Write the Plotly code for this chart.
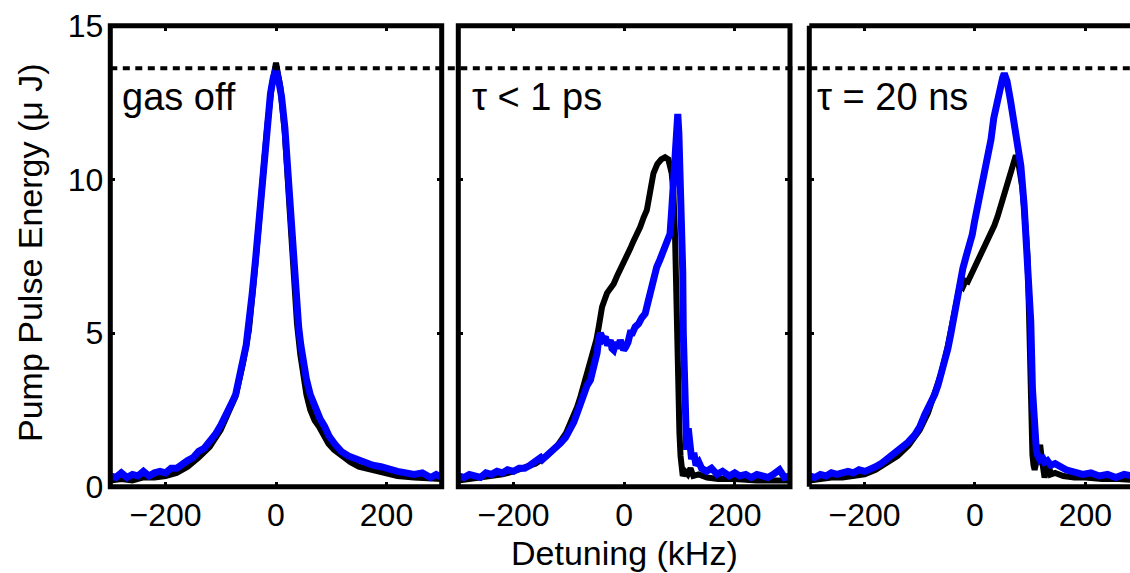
import plotly.graph_objects as go

# ---------------- data ----------------
p1_blue_x = [-300,-290,-280,-270,-260,-250,-240,-230,-220,-210,-200,-190,-180,-170,-160,-150,-140,-130,-120,-110,
             -100,-92,-85,-78,-73,-66,-60,-54,-49,-43,-37,-32,-28,-23,-16,-10,-5,0,5,10,
             16,20,24,28,31,35,41,45,49,55,62,68,74,80,88,96,106,118,131,145,
             160,175,190,205,220,235,250,265,280,290,300]
p1_blue_y = [0.35,0.3,0.45,0.3,0.4,0.35,0.5,0.35,0.45,0.5,0.45,0.6,0.6,0.75,0.85,0.95,1.15,1.25,1.45,1.7,
             2.0,2.25,2.5,2.8,3.0,3.5,4.1,4.6,5.2,6.3,7.4,8.45,9.5,10.6,11.7,12.8,13.3,13.6,13.2,12.7,
             11.7,10.6,9.5,8.45,7.4,6.3,5.2,4.6,4.1,3.5,3.0,2.7,2.5,2.2,1.96,1.65,1.4,1.15,1.0,0.9,
             0.8,0.7,0.65,0.55,0.5,0.45,0.4,0.45,0.3,0.4,0.3]

p1_black_x = [-300,-280,-260,-240,-220,-200,-180,-160,-140,-120,-100,-85,-73,-60,-49,-37,-28,-16,-8,0,
              8,16,24,31,38,44,50,55,62,70,78,86,95,105,118,135,150,170,190,220,250,280,300]
p1_black_y = [0.2,0.25,0.2,0.3,0.3,0.35,0.45,0.65,0.95,1.3,1.85,2.4,2.95,4.0,5.1,7.3,9.4,11.7,13.0,13.8,
              13.0,11.5,9.2,7.1,5.3,4.3,3.5,3.0,2.5,2.15,1.95,1.65,1.4,1.2,1.0,0.8,0.65,0.55,0.45,0.35,0.3,0.25,0.25]

p2_blue_x = [-300,-290,-280,-270,-260,-250,-240,-230,-220,-211,-200,-190,-180,-170,-160,-151,-148,-140,-133,-124,
             -115,-106,-97,-91,-85,-79,-73,-67,-61,-55,-49,-46,-43,-38,-34,-30,-25,-22,-19,-15,
             -11,-7,-4,-1,3,7,11,15,20,26,32,38,43,47,53,59,65,71,77,83,
             86,89,92,95,97,99,101,104,106,107,109,110,113,116,119,122,126,130,135,140,
             149,158,168,178,190,200,209,220,230,240,250,260,270,281,290,300]
p2_blue_y = [0.35,0.3,0.4,0.35,0.3,0.45,0.4,0.5,0.45,0.55,0.5,0.6,0.6,0.7,0.8,0.95,0.88,1.0,1.1,1.3,
             1.42,1.6,1.85,2.1,2.4,2.7,3.04,3.3,3.47,3.9,4.35,4.8,5.0,4.8,4.88,4.6,4.77,4.5,4.45,4.7,
             4.5,4.77,4.6,4.45,4.55,4.7,5.0,5.0,5.2,5.3,5.5,5.63,6.0,6.3,6.7,7.15,7.4,7.7,7.95,8.23,
             9.0,9.86,11.0,11.8,12.13,11.5,10.5,9.3,7.0,5.0,3.3,2.28,1.2,1.9,1.2,0.9,1.1,0.7,0.8,0.6,
             0.5,0.6,0.4,0.5,0.35,0.45,0.35,0.4,0.3,0.4,0.35,0.3,0.4,0.55,0.3,0.35]

p2_black_x = [-300,-280,-260,-240,-220,-200,-180,-160,-140,-120,-105,-95,-85,-79,-73,-67,-61,-55,-50,-46,
              -43,-40,-35,-31,-25,-19,-13,-7,-1,5,11,17,23,29,35,41,47,53,60,67,
              74,80,86,89,92,95,98,100,102,104,106,110,115,120,125,135,150,170,200,240,280,300]
p2_black_y = [0.2,0.25,0.3,0.35,0.4,0.5,0.6,0.75,1.0,1.35,1.75,2.15,2.6,2.93,3.3,3.7,4.0,4.35,4.8,5.2,
              5.6,5.85,6.1,6.3,6.45,6.6,6.85,7.05,7.25,7.5,7.75,8.0,8.2,8.45,8.75,9.0,9.6,10.2,10.5,10.65,
              10.72,10.65,10.2,9.6,8.2,5.0,3.0,1.75,1.0,0.55,0.35,0.5,0.4,0.6,0.35,0.4,0.3,0.25,0.25,0.2,0.2,0.2]

p3_blue_x = [-300,-290,-280,-270,-260,-250,-240,-230,-220,-210,-199,-190,-180,-170,-157,-145,-133,-121,-109,-100,
             -91,-82,-73,-67,-61,-55,-49,-44,-40,-35,-31,-27,-22,-16,-10,-5,-1,4,8,13,
             17,23,29,34,38,44,50,53,58,64,71,77,83,89,95,98,101,104,106,108,
             111,113,117,121,126,131,137,145,155,165,175,185,195,210,225,240,255,270,285,300]
p3_blue_y = [0.35,0.3,0.4,0.35,0.45,0.4,0.45,0.5,0.45,0.55,0.5,0.6,0.65,0.75,0.93,1.05,1.26,1.45,1.69,1.95,
             2.34,2.65,3.0,3.3,3.64,4.05,4.5,4.95,5.37,5.9,6.45,6.75,7.1,7.5,7.86,8.2,8.61,9.05,9.48,10.0,
             10.45,10.9,11.3,12.0,12.4,12.9,13.3,13.45,13.2,12.6,11.86,11.1,10.45,9.16,7.53,6.4,5.37,3.2,2.3,1.6,
             1.2,1.04,0.9,1.0,0.8,0.85,0.7,0.75,0.62,0.55,0.5,0.45,0.4,0.45,0.35,0.4,0.3,0.4,0.35,0.3]

p3_black_x = [-300,-280,-260,-240,-220,-200,-180,-160,-140,-120,-100,-85,-73,-61,-49,-40,-33,-27,-22,-17,
              -13,-7,-1,5,11,17,23,29,35,41,47,53,59,65,70,74,78,82,86,90,
              95,98,100,102,104,106,108,111,115,118,121,124,126,130,133,137,145,160,180,200,230,260,300]
p3_black_y = [0.2,0.25,0.3,0.3,0.35,0.4,0.55,0.75,1.0,1.35,1.85,2.4,3.0,3.7,4.6,5.5,6.2,6.6,6.5,6.7,
              6.67,6.9,7.1,7.3,7.53,7.8,8.07,8.3,8.5,8.8,9.16,9.6,10.0,10.35,10.6,10.78,10.6,10.2,9.7,8.8,
              7.53,5.5,3.2,2.0,1.04,0.7,0.55,0.8,1.2,1.36,0.9,0.5,0.3,0.6,0.8,0.4,0.45,0.35,0.3,0.3,0.25,0.25,0.2]

panel_labels = ["gas off", "τ < 1 ps", "τ = 20 ns"]
x_ticks = [-200, 0, 200]
y_ticks = [0, 5, 10, 15]
ref_level = 13.62
y_title = "Pump Pulse Energy (μ J)"
x_title = "Detuning (kHz)"

# ---------------- figure ----------------
W, H = 1130, 573
FONT = "Liberation Sans, Arial, Helvetica, sans-serif"
BLUE = "#0000ff"

def px_x(p):
    return p / W

def px_y(p):
    return 1 - p / H

doms = [(px_x(110.3), px_x(441.7)), (px_x(458.3), px_x(790.0)), (px_x(809.3), 1.0)]
xranges = [[-300, 300], [-300, 300], [-300, -300 + (W - 809.3) / 0.5523]]
ydom = (px_y(486.7), px_y(25.8))

fig = go.Figure()
series = [(p1_black_x, p1_black_y, p1_blue_x, p1_blue_y),
          (p2_black_x, p2_black_y, p2_blue_x, p2_blue_y),
          (p3_black_x, p3_black_y, p3_blue_x, p3_blue_y)]
for i, (bx, by, ux, uy) in enumerate(series):
    assert len(bx) == len(by) and len(ux) == len(uy), i
    xa = "x" if i == 0 else f"x{i+1}"
    ya = "y" if i == 0 else f"y{i+1}"
    fig.add_trace(go.Scatter(x=bx, y=by, mode="lines", line=dict(color="black", width=6),
                             xaxis=xa, yaxis=ya, showlegend=False, hoverinfo="skip"))
    fig.add_trace(go.Scatter(x=ux, y=uy, mode="lines", line=dict(color=BLUE, width=7),
                             xaxis=xa, yaxis=ya, showlegend=False, hoverinfo="skip"))

layout = dict(width=W, height=H, margin=dict(l=0, r=0, t=0, b=0, pad=0),
              plot_bgcolor="white", paper_bgcolor="white",
              font=dict(family=FONT, color="black", size=32))
for i in range(3):
    sfx = "" if i == 0 else str(i + 1)
    layout[f"xaxis{sfx}"] = dict(domain=list(doms[i]), range=xranges[i], anchor=f"y{sfx}",
                                  tickvals=x_ticks, ticks="inside", ticklen=5, tickwidth=2.5,
                                  tickcolor="black", mirror="ticks", showline=False,
                                  showgrid=False, zeroline=False, automargin=False,
                                  tickfont=dict(size=32, family=FONT), ticklabelstandoff=6)
    layout[f"yaxis{sfx}"] = dict(domain=list(ydom), range=[0, 15], anchor=f"x{sfx}",
                                  tickvals=y_ticks, ticks="inside", ticklen=5, tickwidth=2.5,
                                  tickcolor="black", mirror=("ticks" if i < 2 else False),
                                  showline=False, showgrid=False, zeroline=False, automargin=False,
                                  showticklabels=(i == 0),
                                  tickfont=dict(size=32, family=FONT), ticklabelstandoff=6)
fig.update_layout(**layout)

shapes = []
for i in range(3):
    sfx = "" if i == 0 else str(i + 1)
    xr, yr = f"x{sfx} domain", f"y{sfx} domain"
    ln = dict(color="black", width=5)
    if i < 2:
        shapes.append(dict(type="rect", xref=xr, yref=yr, x0=0, x1=1, y0=0, y1=1, line=ln, layer="above"))
    else:
        shapes.append(dict(type="line", xref=xr, yref=yr, x0=0, x1=1.1, y0=0, y1=0, line=ln, layer="above"))
        shapes.append(dict(type="line", xref=xr, yref=yr, x0=0, x1=1.1, y0=1, y1=1, line=ln, layer="above"))
        shapes.append(dict(type="line", xref=xr, yref=yr, x0=0, x1=0, y0=0, y1=1, line=ln, layer="above"))
shapes.append(dict(type="line", xref="paper", yref="y", x0=doms[0][0], x1=1, y0=ref_level, y1=ref_level,
                   line=dict(color="black", width=4, dash="7px,5.5px"), layer="above"))
fig.update_layout(shapes=shapes)

ann = []
label_x = [120, 470, 815]
for lx, txt in zip(label_x, panel_labels):
    ann.append(dict(text=txt, xref="paper", yref="paper", x=px_x(lx), y=px_y(97),
                    xanchor="left", yanchor="middle", showarrow=False,
                    font=dict(size=38, family=FONT, color="black")))
ann.append(dict(text=y_title, xref="paper", yref="paper", x=px_x(30), y=px_y(253), textangle=-90,
                xanchor="center", yanchor="middle", showarrow=False,
                font=dict(size=34, family=FONT, color="black")))
ann.append(dict(text=x_title, xref="paper", yref="paper", x=px_x(624), y=px_y(553),
                xanchor="center", yanchor="middle", showarrow=False,
                font=dict(size=34, family=FONT, color="black")))
fig.update_layout(annotations=ann)

fig.write_html("out.html")
